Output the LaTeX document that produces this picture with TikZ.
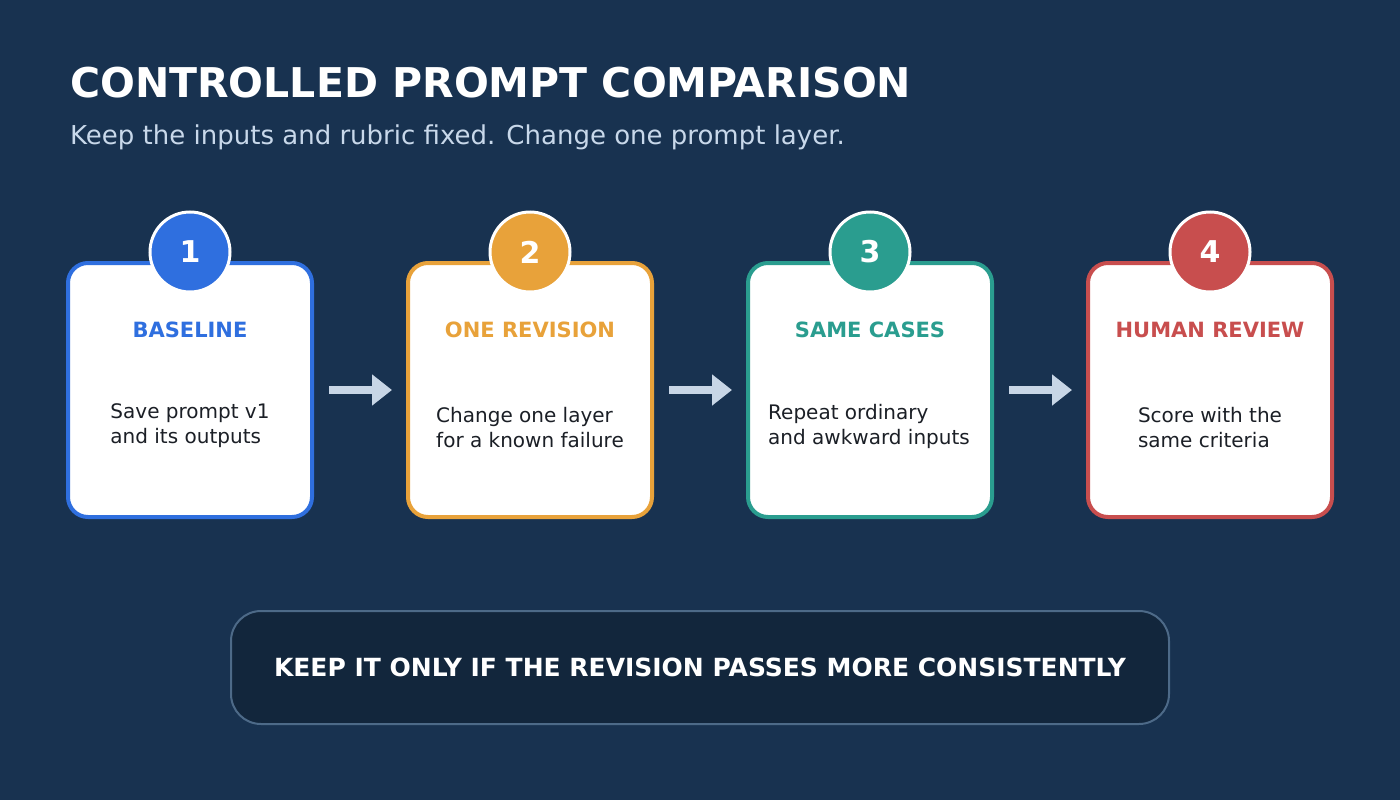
\documentclass[tikz,border=0pt]{standalone}
\usepackage{fontspec}
\setmainfont{DejaVu Sans}
\usetikzlibrary{arrows.meta}
\definecolor{bg}{HTML}{183250}
\definecolor{cblue}{HTML}{2F6FDF}
\definecolor{corange}{HTML}{E8A23A}
\definecolor{cteal}{HTML}{2A9D8F}
\definecolor{cred}{HTML}{C84E4E}
\definecolor{arr}{HTML}{C8D6E6}
\definecolor{sub}{HTML}{C8D8EA}
\definecolor{boxfill}{HTML}{12263C}
\definecolor{boxline}{HTML}{4D6A88}
\definecolor{bodytxt}{HTML}{1B1F26}
\begin{document}
\begin{tikzpicture}[x=1pt,y=-1pt,
 card/.style={draw=#1,line width=4pt,fill=white,rounded corners=20pt,minimum width=244pt,minimum height=254pt,inner sep=0pt},
 badge/.style={circle,fill=#1,draw=white,line width=3pt,minimum size=80pt,inner sep=0pt,text=white,font=\fontsize{30}{30}\selectfont\bfseries},
 ctitle/.style={text=#1,font=\fontsize{21}{25}\selectfont\bfseries},
 body/.style={text=bodytxt,align=left,font=\fontsize{20}{25}\selectfont},
 flow/.style={draw=arr,line width=8pt,-{Triangle[length=20pt,width=30pt]},shorten <=15pt,shorten >=14pt}]
\fill[bg] (0,0) rectangle (1400,800);
\useasboundingbox (0,0) rectangle (1400,800);
\node[anchor=base west,text=white,font=\fontsize{41}{45}\selectfont\bfseries,inner sep=0] (title) at (70,97) {CONTROLLED PROMPT COMPARISON};
\node[anchor=base west,text=sub,font=\fontsize{26}{30}\selectfont,inner sep=0] (subtitle) at (70,144) {Keep the inputs and rubric fixed. Change one prompt layer.};
\foreach \i/\x/\c/\t in {1/190/cblue/BASELINE,2/530/corange/ONE REVISION,3/870/cteal/SAME CASES,4/1210/cred/HUMAN REVIEW}{
 \node[card=\c] (card\i) at (\x,390) {};
 \node[badge=\c] (badge\i) at (\x,252) {\i};
 \node[ctitle=\c] (ctitle\i) at (\x,330) {\t};
}
\node[body] (body1) at (190,426) {Save prompt v1\\and its outputs};
\node[body] (body2) at (530,428) {Change one layer\\for a known failure};
\node[body] (body3) at (869,426) {Repeat ordinary\\and awkward inputs};
\node[body] (body4) at (1210,428) {Score with the\\same criteria};
\draw[flow] (card1.east) -- (card2.west);
\draw[flow] (card2.east) -- (card3.west);
\draw[flow] (card3.east) -- (card4.west);
\node[draw=boxline,line width=2pt,fill=boxfill,rounded corners=30pt,minimum width=938pt,minimum height=113pt,text=white,font=\fontsize{25}{30}\selectfont\bfseries] (verdict) at (700,667.5) {KEEP IT ONLY IF THE REVISION PASSES MORE CONSISTENTLY};
\end{tikzpicture}
\end{document}
